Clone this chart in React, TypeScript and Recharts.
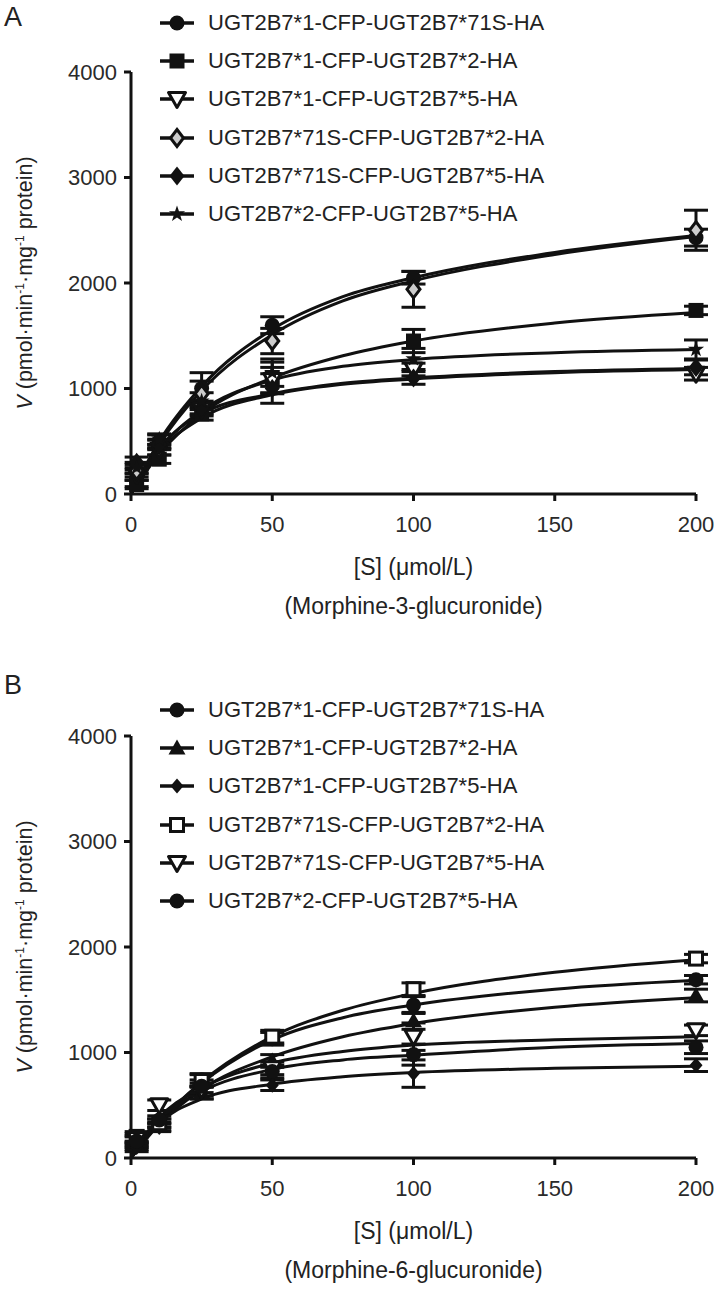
import React from 'react';
import { ComposedChart, Line, Scatter, ErrorBar, XAxis, YAxis } from 'recharts';

const conc = [2, 10, 25, 50, 100, 200];
const fitConc = [0, 10, 25, 50, 75, 100, 150, 200];
const xTicks = [0, 50, 100, 150, 200];
const yTicks = [0, 1000, 2000, 3000, 4000];

// panel A - morphine-3-glucuronide
const namesA = [
  'UGT2B7*1-CFP-UGT2B7*71S-HA',
  'UGT2B7*1-CFP-UGT2B7*2-HA',
  'UGT2B7*1-CFP-UGT2B7*5-HA',
  'UGT2B7*71S-CFP-UGT2B7*2-HA',
  'UGT2B7*71S-CFP-UGT2B7*5-HA',
  'UGT2B7*2-CFP-UGT2B7*5-HA',
];
const a1 = [130, 500, 1000, 1600, 2050, 2430];
const a1Err = [60, 60, 150, 80, 60, 80];
const a1Fit = [0, 500, 1020, 1560, 1870, 2050, 2290, 2450];
const a2 = [90, 330, 760, 1100, 1450, 1740];
const a2Err = [40, 40, 60, 150, 110, 40];
const a2Fit = [0, 380, 760, 1100, 1310, 1450, 1620, 1720];
const a3 = [180, 420, 800, 1080, 1180, 1140];
const a3Err = [50, 50, 60, 120, 60, 60];
const a3Fit = [0, 430, 760, 950, 1050, 1100, 1160, 1190];
const a4 = [220, 470, 950, 1450, 1940, 2500];
const a4Err = [60, 50, 120, 120, 170, 190];
const a4Fit = [0, 470, 980, 1510, 1830, 2020, 2270, 2440];
const a5 = [300, 470, 820, 1000, 1100, 1200];
const a5Err = [50, 40, 60, 140, 60, 70];
const a5Fit = [0, 400, 720, 940, 1040, 1090, 1150, 1180];
const a6 = [250, 520, 880, 1150, 1280, 1370];
const a6Err = [50, 50, 80, 130, 100, 90];
const a6Fit = [0, 420, 790, 1080, 1210, 1275, 1340, 1370];

// panel B - morphine-6-glucuronide
const namesB = [
  'UGT2B7*1-CFP-UGT2B7*71S-HA',
  'UGT2B7*1-CFP-UGT2B7*2-HA',
  'UGT2B7*1-CFP-UGT2B7*5-HA',
  'UGT2B7*71S-CFP-UGT2B7*2-HA',
  'UGT2B7*71S-CFP-UGT2B7*5-HA',
  'UGT2B7*2-CFP-UGT2B7*5-HA',
];
const b1 = [150, 330, 740, 1130, 1450, 1690];
const b1Err = [50, 40, 60, 60, 80, 40];
const b1Fit = [0, 340, 710, 1120, 1330, 1450, 1600, 1685];
const b2 = [120, 300, 620, 920, 1300, 1540];
const b2Err = [40, 40, 60, 60, 80, 60];
const b2Fit = [0, 320, 650, 960, 1150, 1275, 1430, 1520];
const b3 = [100, 290, 620, 690, 800, 880];
const b3Err = [40, 40, 60, 50, 130, 60];
const b3Fit = [0, 330, 560, 700, 770, 810, 850, 870];
const b4 = [200, 330, 730, 1150, 1600, 1890];
const b4Err = [50, 40, 60, 60, 60, 40];
const b4Fit = [0, 340, 720, 1150, 1400, 1560, 1760, 1880];
const b5 = [180, 500, 650, 850, 1150, 1210];
const b5Err = [50, 50, 60, 60, 130, 50];
const b5Fit = [0, 380, 660, 900, 1010, 1070, 1120, 1150];
const b6 = [160, 360, 680, 820, 980, 1050];
const b6Err = [50, 40, 60, 60, 100, 60];
const b6Fit = [0, 360, 630, 840, 930, 975, 1050, 1085];

const seriesA = [
  { name: namesA[0], kind: 'circle', pts: a1, err: a1Err, fit: a1Fit },
  { name: namesA[1], kind: 'square', pts: a2, err: a2Err, fit: a2Fit },
  { name: namesA[2], kind: 'triDownOpen', pts: a3, err: a3Err, fit: a3Fit },
  { name: namesA[3], kind: 'diamondOpen', pts: a4, err: a4Err, fit: a4Fit },
  { name: namesA[4], kind: 'diamond', pts: a5, err: a5Err, fit: a5Fit },
  { name: namesA[5], kind: 'star', pts: a6, err: a6Err, fit: a6Fit },
];
const seriesB = [
  { name: namesB[0], kind: 'circle', pts: b1, err: b1Err, fit: b1Fit },
  { name: namesB[1], kind: 'triUp', pts: b2, err: b2Err, fit: b2Fit },
  { name: namesB[2], kind: 'diamondSmall', pts: b3, err: b3Err, fit: b3Fit },
  { name: namesB[3], kind: 'squareOpen', pts: b4, err: b4Err, fit: b4Fit },
  { name: namesB[4], kind: 'triDownOpen', pts: b5, err: b5Err, fit: b5Fit },
  { name: namesB[5], kind: 'circle', pts: b6, err: b6Err, fit: b6Fit },
];

const INK = '#111';
const FONT = '"Liberation Sans", Arial, sans-serif';

const toPoints = (ys: number[], errs: number[]) => conc.map((x, i) => ({ x, y: ys[i], e: errs[i] }));
const toFit = (ys: number[]) => fitConc.map((x, i) => ({ x, y: ys[i] }));

function Marker({ kind, cx, cy }: { kind: string; cx: number; cy: number }) {
  const s = 7.5;
  switch (kind) {
    case 'circle':
      return <circle cx={cx} cy={cy} r={s} fill={INK} />;
    case 'square':
      return <rect x={cx - s} y={cy - s} width={2 * s} height={2 * s} fill={INK} />;
    case 'squareOpen':
      return <rect x={cx - s + 1} y={cy - s + 1} width={2 * s - 2} height={2 * s - 2} fill="#fff" stroke={INK} strokeWidth={3} />;
    case 'triDownOpen':
      return (
        <polygon
          points={`${cx - s - 1},${cy - s + 1} ${cx + s + 1},${cy - s + 1} ${cx},${cy + s + 1}`}
          fill="#fff" stroke={INK} strokeWidth={3} strokeLinejoin="round"
        />
      );
    case 'triUp':
      return <polygon points={`${cx - s - 1},${cy + s - 1} ${cx + s + 1},${cy + s - 1} ${cx},${cy - s - 1}`} fill={INK} />;
    case 'diamond':
      return <polygon points={`${cx},${cy - s - 2} ${cx + s},${cy} ${cx},${cy + s + 2} ${cx - s},${cy}`} fill={INK} />;
    case 'diamondOpen':
      return (
        <polygon
          points={`${cx},${cy - s - 1} ${cx + s - 1},${cy} ${cx},${cy + s + 1} ${cx - s + 1},${cy}`}
          fill="#ccc" stroke={INK} strokeWidth={3}
        />
      );
    case 'diamondSmall':
      return <polygon points={`${cx},${cy - s} ${cx + s - 1},${cy} ${cx},${cy + s} ${cx - s + 1},${cy}`} fill={INK} />;
    case 'star': {
      const pts: string[] = [];
      for (let k = 0; k < 10; k++) {
        const r = k % 2 === 0 ? s + 1 : s * 0.45;
        const a = -Math.PI / 2 + (k * Math.PI) / 5;
        pts.push(`${cx + r * Math.cos(a)},${cy + r * Math.sin(a)}`);
      }
      return <polygon points={pts.join(' ')} fill={INK} />;
    }
    default:
      return null;
  }
}

type Series = { name: string; kind: string; pts: number[]; err: number[]; fit: number[] };

function Panel({ top, letter, letterTop, legendTop, series, compound }: {
  top: number; letter: string; letterTop: number; legendTop: number; series: Series[]; compound: string;
}) {
  return (
    <div style={{ position: 'absolute', left: 0, top, width: 714, height: 640, fontFamily: FONT, color: '#222' }}>
      <div style={{ position: 'absolute', left: 4, top: letterTop, fontSize: 27, lineHeight: '30px' }}>{letter}</div>
      <div style={{ position: 'absolute', left: 0, top: 0 }}>
        <ComposedChart width={714} height={540} margin={{ top: 72, right: 18, left: 0, bottom: 0 }}>
          <XAxis
            dataKey="x" type="number" domain={[0, 200]} ticks={xTicks} height={46}
            axisLine={{ stroke: INK, strokeWidth: 3 }}
            tickLine={{ stroke: INK, strokeWidth: 3 }}
            tickSize={7} tickMargin={15}
            tick={{ fontSize: 22, fill: '#2a2a2a', fontFamily: FONT }}
          />
          <YAxis
            dataKey="y" type="number" domain={[0, 4000]} ticks={yTicks} width={131}
            axisLine={{ stroke: INK, strokeWidth: 3 }}
            tickLine={{ stroke: INK, strokeWidth: 3 }}
            tickSize={7} tickMargin={7}
            tick={{ fontSize: 22, fill: '#2a2a2a', fontFamily: FONT }}
          />
          {series.map((s, i) => (
            <Line
              key={`fit-${i}`} data={toFit(s.fit)} dataKey="y" type="monotone"
              dot={false} stroke={INK} strokeWidth={3} isAnimationActive={false}
            />
          ))}
          {series.map((s, i) => (
            <Scatter
              key={`pts-${i}`} data={toPoints(s.pts, s.err)} dataKey="y" isAnimationActive={false}
              shape={(p: any) => <Marker kind={s.kind} cx={p.cx} cy={p.cy} />}
            >
              <ErrorBar dataKey="e" direction="y" width={12} stroke={INK} strokeWidth={3} isAnimationActive={false} />
            </Scatter>
          ))}
        </ComposedChart>
      </div>

      {series.map((s, i) => (
        <div key={s.name + i} style={{ position: 'absolute', left: 158, top: legendTop + i * 38.2 - 14, height: 28, display: 'flex', alignItems: 'center' }}>
          <svg width={40} height={28}>
            <line x1={2} y1={14} x2={36} y2={14} stroke={INK} strokeWidth={3.5} />
            <Marker kind={s.kind} cx={19} cy={14} />
          </svg>
          <span style={{ marginLeft: 10, fontSize: 22, whiteSpace: 'nowrap' }}>{s.name}</span>
        </div>
      ))}

      <div
        style={{
          position: 'absolute', left: 20 - 220, top: 283 - 14, width: 440, height: 28, lineHeight: '28px',
          textAlign: 'center', fontSize: 21.5, transform: 'rotate(-90deg)', whiteSpace: 'nowrap',
        }}
      >
        <i>V</i> (pmol·min<sup style={{ fontSize: 12 }}>-1</sup>·mg<sup style={{ fontSize: 12 }}>-1</sup> protein)
      </div>
      <div style={{ position: 'absolute', left: 131, width: 565, top: 568 - 14, textAlign: 'center', fontSize: 23 }}>
        [S] (μmol/L)
      </div>
      <div style={{ position: 'absolute', left: 131, width: 565, top: 607 - 14, textAlign: 'center', fontSize: 23 }}>
        {compound}
      </div>
    </div>
  );
}

export default function App() {
  return (
    <div style={{ position: 'absolute', left: 0, top: 0, width: 714, height: 1290, background: '#fff' }}>
      <Panel top={0} letter="A" letterTop={2} legendTop={23} series={seriesA} compound="(Morphine-3-glucuronide)" />
      <Panel top={664} letter="B" letterTop={6} legendTop={46} series={seriesB} compound="(Morphine-6-glucuronide)" />
    </div>
  );
}
